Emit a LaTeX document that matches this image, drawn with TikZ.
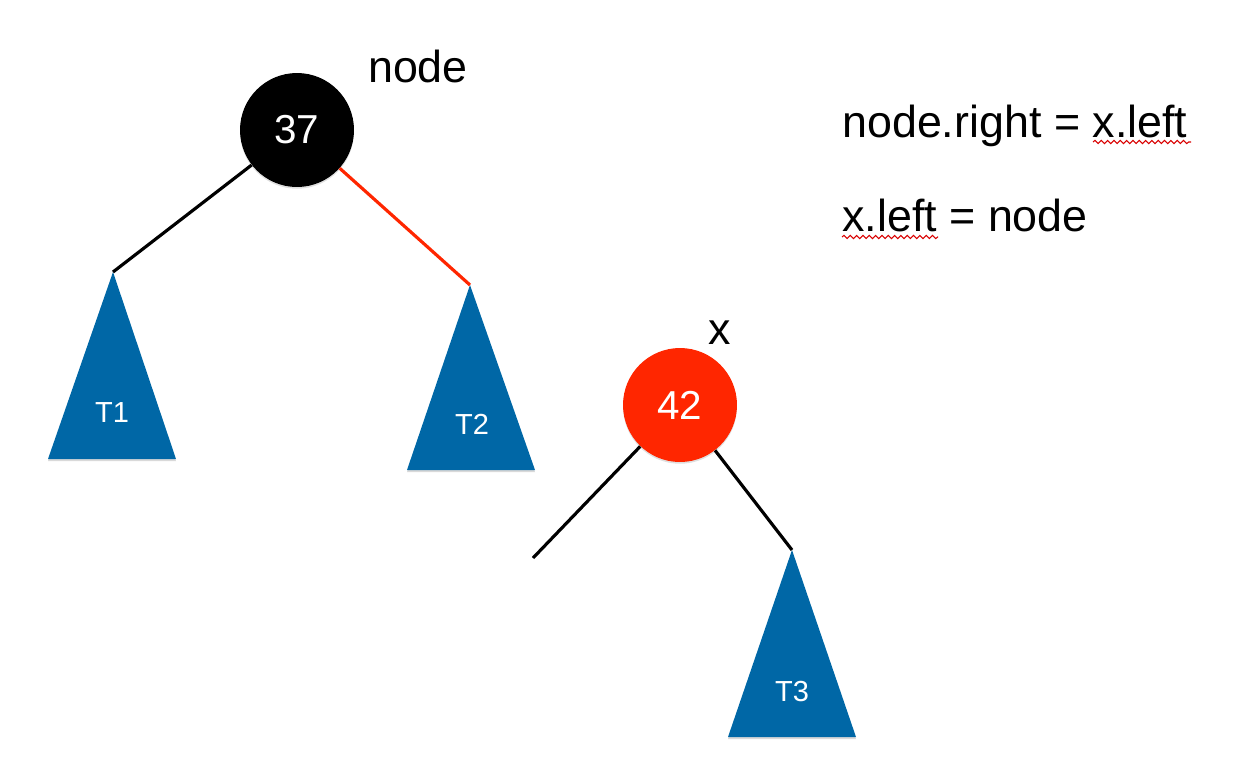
\documentclass[tikz,border=0pt]{standalone}
\usepackage{fontspec}
\setmainfont{Liberation Sans}
\usetikzlibrary{shadows,decorations.pathmorphing}
\definecolor{treeblue}{HTML}{0067A6}
\definecolor{nodered}{HTML}{FF2600}
\tikzset{
  rbnode/.style={circle, minimum size=2.28cm, inner sep=0pt, text=white,
    font=\fontsize{23}{25}\selectfont, drop shadow={opacity=0.25, shadow xshift=0pt, shadow yshift=-1pt}},
  subtree/.style={fill=treeblue, drop shadow={opacity=0.3, shadow xshift=0pt, shadow yshift=-1.2pt}},
  treelabel/.style={text=white, font=\fontsize{16.5}{18}\selectfont},
  edge/.style={line width=1.8pt},
  biglabel/.style={font=\fontsize{25.5}{28}\selectfont},
  squiggle/.style={draw=red!85!black, line width=0.6pt, decorate,
    decoration={snake, amplitude=0.9pt, segment length=3.6pt}}
}
\begin{document}
\begin{tikzpicture}[x=0.02cm, y=-0.02cm]
\useasboundingbox (0,0) rectangle (1242,768);
% subtrees
\coordinate (t1) at (113,272);
\coordinate (t2) at (470,285);
\coordinate (t3) at (792,550);
\coordinate (xleftend) at (533,558);
\path[subtree] (t1) -- (176,459) -- (48,459) -- cycle;
\path[subtree] (t2) -- (535,470) -- (407,470) -- cycle;
\path[subtree] (t3) -- (856,737) -- (728,737) -- cycle;
\node[treelabel] (t1lbl) at (112,413) {T1};
\node[treelabel] (t2lbl) at (472,424) {T2};
\node[treelabel] (t3lbl) at (792,692) {T3};
% nodes
\node[rbnode, fill=black] (n37) at (297,130) {37};
\node[rbnode, fill=nodered] (n42) at (680,405) {42};
\node[biglabel] (nodelbl) at (418,66) {node};
\node[biglabel] (xlbl) at (720,333) {x};
% edges
\draw[edge] (n37) -- (t1);
\draw[edge, nodered] (n37) -- (t2);
\draw[edge] (n42) -- (xleftend);
\draw[edge] (n42) -- (t3);
% assignments
\node[biglabel, anchor=base west, inner sep=0pt] (line1) at (842,137) {node.right = x.left};
\node[biglabel, anchor=base west, inner sep=0pt] (line2) at (842,231) {x.left = node};
\draw[squiggle] (1093,142) -- (1191,142);
\draw[squiggle] (842,237) -- (938,237);
\end{tikzpicture}
\end{document}
